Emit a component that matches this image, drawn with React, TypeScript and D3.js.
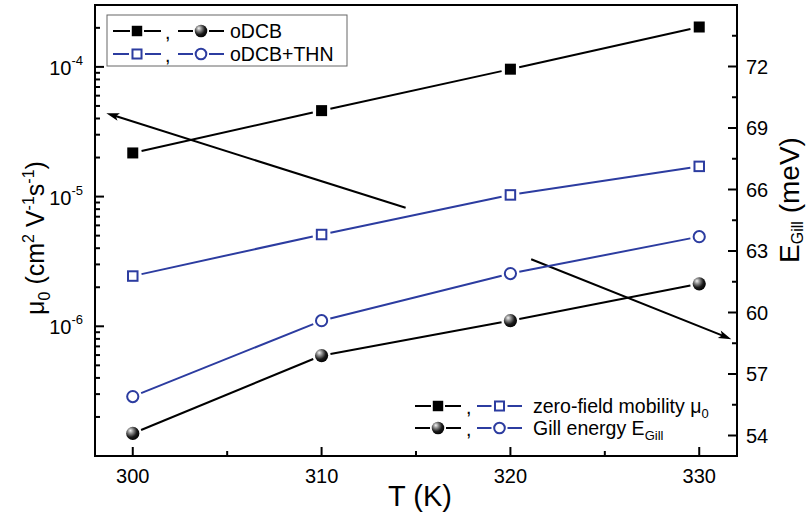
import React from 'react';
import * as d3 from 'd3';

// temperature (K)
const temps = [300, 310, 320, 330];
// zero-field mobility mu0 (cm2 V-1 s-1), left axis
const muODCB = [2.17e-5, 4.6e-5, 9.6e-5, 2.03e-4];
const muTHN = [2.44e-6, 5.1e-6, 1.03e-5, 1.71e-5];
// Gill energy (meV), right axis
const egODCB = [54.1, 57.9, 59.6, 61.4];
const egTHN = [55.9, 59.6, 61.9, 63.7];

const xTicks = [300, 310, 320, 330];
const xMinor = [305, 315, 325];
const muTicks = [1e-6, 1e-5, 1e-4];
const muExp = ['-6', '-5', '-4'];
const egTicks = [54, 57, 60, 63, 66, 69, 72];
const egMinor = [55.5, 58.5, 61.5, 64.5, 67.5, 70.5, 73.5];

// annotation arrows, [T, value] -> [T, value]
const arrowMu = [[314.45, 8.2e-6], [298.6, 4.4e-5]];
const arrowEg = [[321.1, 62.6], [331.7, 58.7]];

const FONT = "'Liberation Sans', Arial, Helvetica, sans-serif";
const BLUE = '#2c3ca0';
const W = 810, H = 517;
const L = 95, R = 737, T = 5, B = 456;

const x = d3.scaleLinear().domain([298, 332]).range([L, R]);
const yMu = d3.scaleLog().domain([1e-7, 3e-4]).range([B, T]);
const yEg = d3.scaleLinear().domain([53, 75]).range([B, T]);

function gapSegs(pts, gap) {
  const out = [];
  for (let i = 0; i < pts.length - 1; i++) {
    const [x1, y1] = pts[i], [x2, y2] = pts[i + 1];
    const dx = x2 - x1, dy = y2 - y1, len = Math.hypot(dx, dy);
    const ux = dx / len, uy = dy / len;
    out.push([x1 + ux * gap, y1 + uy * gap, x2 - ux * gap, y2 - uy * gap]);
  }
  return out;
}

function Marker({ kind, cx, cy, s = 1 }) {
  if (kind === 'fsq') {
    const a = 11 * s;
    return <rect x={cx - a / 2} y={cy - a / 2} width={a} height={a} fill="#000" />;
  }
  if (kind === 'osq') {
    const a = 9.5 * s;
    return <rect x={cx - a / 2} y={cy - a / 2} width={a} height={a} fill="#fff" stroke={BLUE} strokeWidth={2} />;
  }
  if (kind === 'oci') {
    return <circle cx={cx} cy={cy} r={5.6 * s} fill="#fff" stroke={BLUE} strokeWidth={2} />;
  }
  return <circle cx={cx} cy={cy} r={6.6 * s} fill="url(#ball)" />;
}

function Series({ ys, scale, color, kind }) {
  const pts = temps.map((t, i) => [x(t), scale(ys[i])]);
  return (
    <g>
      {gapSegs(pts, 9).map((s, i) => (
        <line key={i} x1={s[0]} y1={s[1]} x2={s[2]} y2={s[3]} stroke={color} strokeWidth={2} />
      ))}
      {pts.map((p, i) => <Marker key={i} kind={kind} cx={p[0]} cy={p[1]} />)}
    </g>
  );
}

function Arrow({ x1, y1, x2, y2 }) {
  const dx = x2 - x1, dy = y2 - y1, len = Math.hypot(dx, dy);
  const ux = dx / len, uy = dy / len;
  const hl = 13, hw = 4;
  const bx = x2 - ux * hl, by = y2 - uy * hl;
  const head = `M${x2},${y2} L${bx - uy * hw},${by + ux * hw} L${x2 - ux * (hl - 3)},${y2 - uy * (hl - 3)} L${bx + uy * hw},${by - ux * hw} Z`;
  return (
    <g>
      <line x1={x1} y1={y1} x2={x2 - ux * 8} y2={y2 - uy * 8} stroke="#000" strokeWidth={2} />
      <path d={head} fill="#000" />
    </g>
  );
}

function LegendItem({ x0, x1, y, color, kind }) {
  const mid = (x0 + x1) / 2;
  const g = kind === 'fsq' ? 7 : 8;
  return (
    <g>
      <line x1={x0} y1={y} x2={mid - g} y2={y} stroke={color} strokeWidth={2} />
      <line x1={mid + g} y1={y} x2={x1} y2={y} stroke={color} strokeWidth={2} />
      <Marker kind={kind} cx={mid} cy={y} s={0.95} />
    </g>
  );
}

export default function App() {
  return (
    <svg width={W} height={H} style={{ position: 'absolute', left: 0, top: 0, background: '#fff' }}
      fontFamily={FONT}>
      <defs>
        <radialGradient id="ball" cx="0.38" cy="0.35" r="0.7" fx="0.32" fy="0.28">
          <stop offset="0" stopColor="#f4f4f4" />
          <stop offset="0.3" stopColor="#8a8a8a" />
          <stop offset="0.65" stopColor="#1a1a1a" />
          <stop offset="1" stopColor="#000" />
        </radialGradient>
      </defs>

      {/* frame */}
      <rect x={L} y={T} width={R - L} height={B - T} fill="none" stroke="#000" strokeWidth={2} />

      {/* bottom axis */}
      {xTicks.map(t => (
        <g key={t}>
          <line x1={x(t)} x2={x(t)} y1={B} y2={B - 9} stroke="#000" strokeWidth={2} />
          <text x={x(t)} y={B + 27} fontSize={20} textAnchor="middle">{t}</text>
        </g>
      ))}
      {xMinor.map(t => <line key={t} x1={x(t)} x2={x(t)} y1={B} y2={B - 5} stroke="#000" strokeWidth={2} />)}
      <text x={(L + R) / 2 + 4} y={506} fontSize={29} textAnchor="middle">T (K)</text>

      {/* left log axis */}
      {yMu.ticks().filter(v => v < 3e-4 && v > 1e-7).map((v, i) => {
        const major = muTicks.some(m => Math.abs(m - v) / m < 1e-6);
        return <line key={i} x1={L} x2={L + (major ? 9 : 5)} y1={yMu(v)} y2={yMu(v)} stroke="#000" strokeWidth={2} />;
      })}
      {muTicks.map((v, i) => (
        <text key={v} x={83} y={yMu(v) + 8} fontSize={20} textAnchor="end">
          10<tspan dy={-10} fontSize={13}>{muExp[i]}</tspan>
        </text>
      ))}
      <text transform={`translate(44,238) rotate(-90)`} fontSize={25} textAnchor="middle">
        μ<tspan dy={6} fontSize={16}>0</tspan><tspan dy={-6}> (cm</tspan>
        <tspan dy={-10} fontSize={16}>2</tspan><tspan dy={10}> V</tspan>
        <tspan dy={-10} fontSize={16}>-1</tspan><tspan dy={10}>s</tspan>
        <tspan dy={-10} fontSize={16}>-1</tspan><tspan dy={10}>)</tspan>
      </text>

      {/* right axis */}
      {egTicks.map(v => (
        <g key={v}>
          <line x1={R} x2={R - 9} y1={yEg(v)} y2={yEg(v)} stroke="#000" strokeWidth={2} />
          <text x={746} y={yEg(v) + 7} fontSize={20}>{v}</text>
        </g>
      ))}
      {egMinor.map(v => <line key={v} x1={R} x2={R - 5} y1={yEg(v)} y2={yEg(v)} stroke="#000" strokeWidth={2} />)}
      <text transform={`translate(799,200) rotate(-90)`} fontSize={28} textAnchor="middle">
        E<tspan dy={4} fontSize={16}>Gill</tspan><tspan dy={-4}> (meV)</tspan>
      </text>

      {/* arrows */}
      <Arrow x1={x(arrowMu[0][0])} y1={yMu(arrowMu[0][1])} x2={x(arrowMu[1][0])} y2={yMu(arrowMu[1][1])} />
      <Arrow x1={x(arrowEg[0][0])} y1={yEg(arrowEg[0][1])} x2={x(arrowEg[1][0])} y2={yEg(arrowEg[1][1])} />

      {/* data */}
      <Series ys={muODCB} scale={yMu} color="#000" kind="fsq" />
      <Series ys={muTHN} scale={yMu} color={BLUE} kind="osq" />
      <Series ys={egTHN} scale={yEg} color={BLUE} kind="oci" />
      <Series ys={egODCB} scale={yEg} color="#000" kind="ball" />

      {/* top-left legend */}
      <rect x={107} y={15} width={240} height={51} fill="#fff" stroke="#666" strokeWidth={1} />
      <LegendItem x0={113} x1={161} y={31} color="#000" kind="fsq" />
      <text x={165} y={39} fontSize={19.5}>,</text>
      <LegendItem x0={178} x1={224} y={31} color="#000" kind="ball" />
      <text x={230} y={38} fontSize={19.5}>oDCB</text>
      <LegendItem x0={113} x1={161} y={54} color={BLUE} kind="osq" />
      <text x={165} y={62} fontSize={19.5}>,</text>
      <LegendItem x0={178} x1={224} y={54} color={BLUE} kind="oci" />
      <text x={230} y={61} fontSize={19.5}>oDCB+THN</text>

      {/* bottom-right legend */}
      <LegendItem x0={415} x1={461} y={406} color="#000" kind="fsq" />
      <text x={466} y={414} fontSize={19.5}>,</text>
      <LegendItem x0={477} x1={522} y={406} color={BLUE} kind="osq" />
      <text x={533} y={413} fontSize={19.5}>
        zero-field mobility μ<tspan dy={5} fontSize={13}>0</tspan>
      </text>
      <LegendItem x0={415} x1={461} y={428} color="#000" kind="ball" />
      <text x={466} y={436} fontSize={19.5}>,</text>
      <LegendItem x0={477} x1={522} y={428} color={BLUE} kind="oci" />
      <text x={533} y={435} fontSize={19.5}>
        Gill energy E<tspan dy={5} fontSize={13}>Gill</tspan>
      </text>
    </svg>
  );
}
